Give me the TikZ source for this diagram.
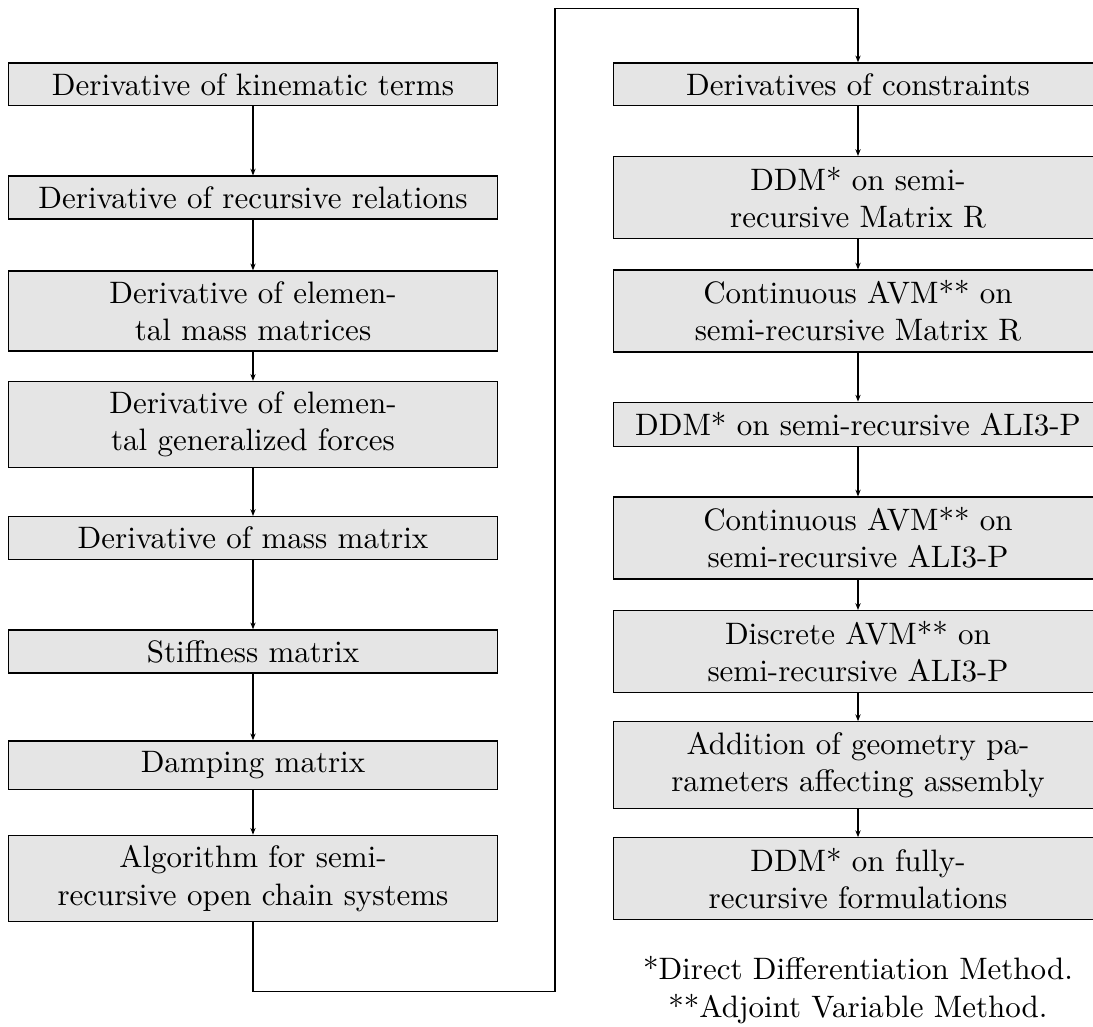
\documentclass[tikz,border=0pt]{standalone}
\usetikzlibrary{arrows.meta}
\begin{document}
\begin{tikzpicture}[x=0.32258pt,y=-0.32258pt,
  stepbox/.style={draw=black, fill=gray!20, text width=151pt, align=center,
    inner sep=3.333pt, line width=0.4pt},
  flow/.style={-{Stealth[length=2.2pt,width=1.7pt]}, line width=0.4pt},
  link/.style={line width=0.4pt},
  ]
\useasboundingbox (0,0) rectangle (1093,1026);

% left column
\node[stepbox] (l1) at (253,84.4)  {Derivative of kinematic terms};
\node[stepbox] (l2) at (253,197.5) {Derivative of recursive relations};
\node[stepbox] (l3) at (253,311)   {Derivative of elemen-\\tal mass matrices};
\node[stepbox] (l4) at (253,424.5) {Derivative of elemen-\\tal generalized forces};
\node[stepbox] (l5) at (253,538)   {Derivative of mass matrix};
\node[stepbox] (l6) at (253,651.5) {Stiffness matrix};
\node[stepbox] (l7) at (253,765)   {Damping matrix};
\node[stepbox] (l8) at (253,878.5) {Algorithm for semi-\\recursive open chain systems};

% right column
\node[stepbox] (r1) at (858,84.4)  {Derivatives of constraints};
\node[stepbox] (r2) at (858,197.5) {DDM* on semi-\\recursive Matrix R};
\node[stepbox] (r3) at (858,311)   {Continuous AVM** on\\semi-recursive Matrix R};
\node[stepbox] (r4) at (858,424.5) {DDM* on semi-recursive ALI3-P};
\node[stepbox] (r5) at (858,538)   {Continuous AVM** on\\semi-recursive ALI3-P};
\node[stepbox] (r6) at (858,651.5) {Discrete AVM** on\\semi-recursive ALI3-P};
\node[stepbox] (r7) at (858,765)   {Addition of geometry pa-\\rameters affecting assembly};
\node[stepbox] (r8) at (858,878.5) {DDM* on fully-\\recursive formulations};

% footnotes
\node[align=center, inner sep=0pt] (note) at (858,990)
  {*Direct Differentiation Method.\\**Adjoint Variable Method.};

% arrows within columns
\foreach \a/\b in {l1/l2,l2/l3,l3/l4,l4/l5,l5/l6,l6/l7,l7/l8,
                   r1/r2,r2/r3,r3/r4,r4/r5,r5/r6,r6/r7,r7/r8}
  \draw[flow] (\a) -- (\b);

% connector from the end of the left column to the top of the right column
\coordinate (c1) at (253,991.3);
\coordinate (c2) at (555,991.3);
\coordinate (c3) at (555,8.3);
\coordinate (c4) at (858,8.3);
\draw[flow] (l8.south) -- (c1) -- (c2) -- (c3) -- (c4) -- (r1.north);
\end{tikzpicture}
\end{document}
